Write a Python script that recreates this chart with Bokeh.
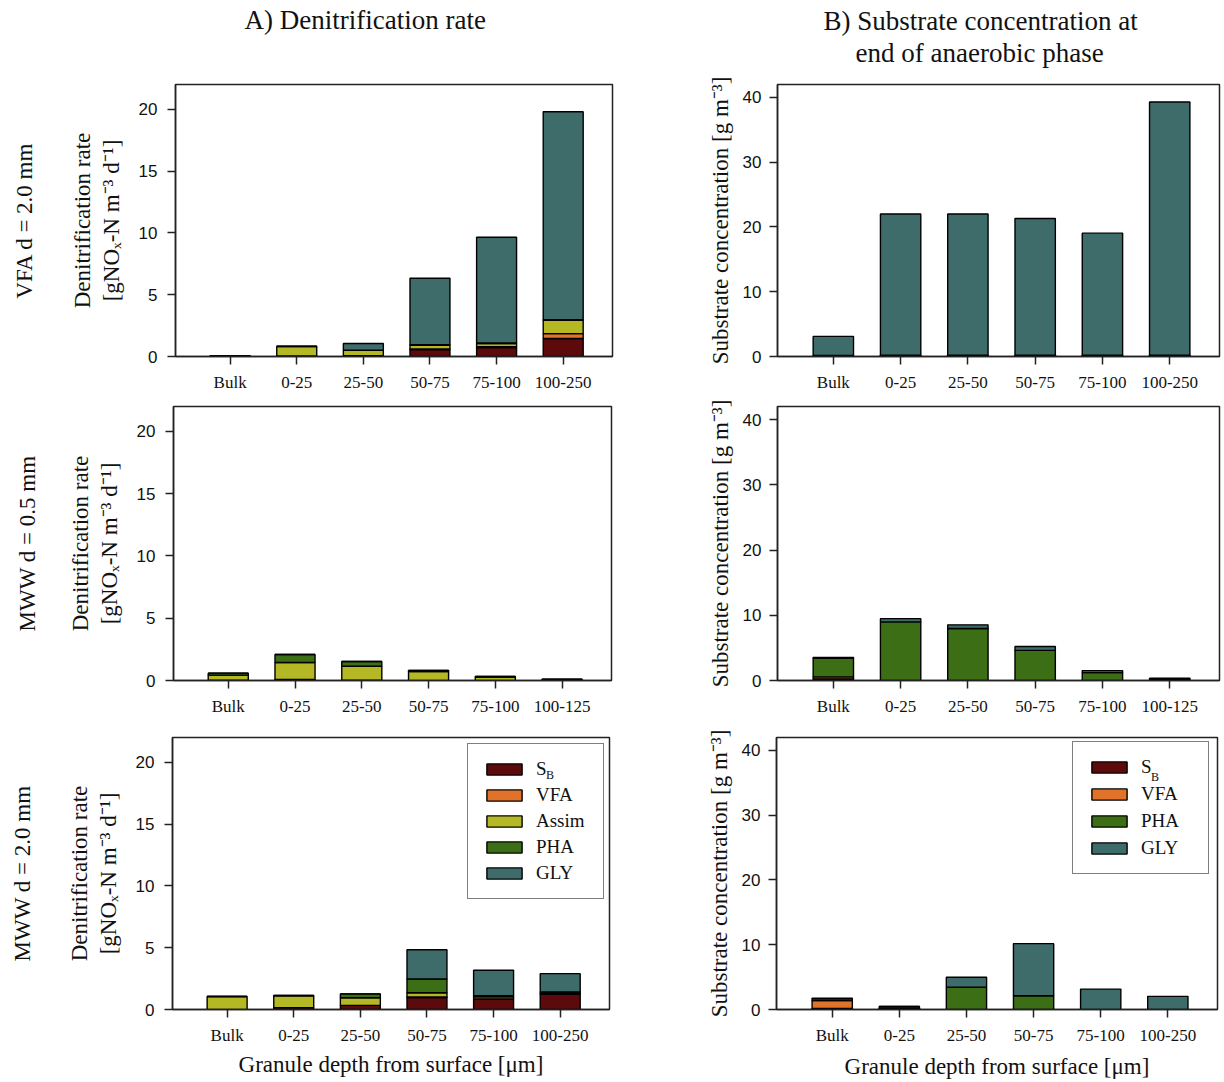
import math
from bokeh.plotting import figure
from bokeh.models import Range1d, ColumnDataSource, Legend, LegendItem, Title, FixedTicker
from bokeh.core.properties import value
from bokeh.layouts import column, row
from bokeh.embed import file_html
from bokeh.resources import INLINE

# ---------------- data ----------------
cats_a1 = ["Bulk", "0-25", "25-50", "50-75", "75-100", "100-250"]
cats_a2 = ["Bulk", "0-25", "25-50", "50-75", "75-100", "100-125"]
cats_a3 = ["Bulk", "0-25", "25-50", "50-75", "75-100", "100-250"]
cats_b1 = ["Bulk", "0-25", "25-50", "50-75", "75-100", "100-250"]
cats_b2 = ["Bulk", "0-25", "25-50", "50-75", "75-100", "100-125"]
cats_b3 = ["Bulk", "0-25", "25-50", "50-75", "75-100", "100-250"]

# A) Denitrification rate [gNOx-N m-3 d-1]
a1_sb    = [0.05, 0.05, 0.07, 0.56, 0.72, 1.45]
a1_vfa   = [0.00, 0.00, 0.00, 0.05, 0.08, 0.40]
a1_assim = [0.02, 0.75, 0.44, 0.30, 0.25, 1.07]
a1_pha   = [0.00, 0.03, 0.00, 0.05, 0.05, 0.05]
a1_gly   = [0.00, 0.00, 0.54, 5.37, 8.55, 16.82]

a2_sb    = [0.03, 0.08, 0.02, 0.00, 0.00, 0.03]
a2_vfa   = [0.00, 0.00, 0.00, 0.00, 0.00, 0.00]
a2_assim = [0.40, 1.36, 1.13, 0.72, 0.28, 0.03]
a2_pha   = [0.16, 0.65, 0.38, 0.08, 0.04, 0.04]
a2_gly   = [0.00, 0.00, 0.00, 0.00, 0.00, 0.00]

a3_sb    = [0.00, 0.15, 0.33, 0.97, 0.86, 1.23]
a3_vfa   = [0.00, 0.00, 0.00, 0.05, 0.00, 0.00]
a3_assim = [1.05, 0.95, 0.62, 0.33, 0.16, 0.05]
a3_pha   = [0.00, 0.03, 0.31, 1.12, 0.10, 0.14]
a3_gly   = [0.00, 0.00, 0.00, 2.36, 2.05, 1.48]

# B) Substrate concentration at end of anaerobic phase [g m-3]
b1_sb  = [0.05, 0.05, 0.05, 0.05, 0.05, 0.05]
b1_vfa = [0.00, 0.00, 0.00, 0.00, 0.00, 0.00]
b1_pha = [0.10, 0.15, 0.15, 0.15, 0.15, 0.15]
b1_gly = [2.95, 21.80, 21.80, 21.10, 18.85, 39.10]

b2_sb  = [0.25, 0.00, 0.00, 0.00, 0.00, 0.10]
b2_vfa = [0.30, 0.00, 0.00, 0.00, 0.00, 0.00]
b2_pha = [2.85, 8.98, 7.97, 4.62, 1.20, 0.15]
b2_gly = [0.15, 0.50, 0.56, 0.60, 0.32, 0.10]

b3_sb  = [0.15, 0.20, 0.00, 0.00, 0.00, 0.00]
b3_vfa = [1.25, 0.00, 0.00, 0.00, 0.00, 0.00]
b3_pha = [0.28, 0.26, 3.46, 2.13, 0.00, 0.00]
b3_gly = [0.05, 0.00, 1.52, 8.04, 3.15, 2.03]

a_ticks = [0, 5, 10, 15, 20]
b_ticks = [0, 10, 20, 30, 40]

COL = {"SB": "#5C0A0C", "VFA": "#E0722A", "Assim": "#B3B824",
       "PHA": "#3B6E15", "GLY": "#3E6C6B"}

SERIF = "Liberation Serif"
SANS = "Liberation Sans"
TXT = "#111111"


class Panel:
    def __init__(self, col_left, row_top, W, H, frame, xr, yr, cats, names, vals, yticks, ystand):
        self.fl, self.ft, self.fr, self.fb = frame
        self.xr, self.yr = xr, yr
        p = figure(width=W, height=H, output_backend="svg", toolbar_location=None,
                   x_range=Range1d(*xr), y_range=Range1d(*yr), title=None,
                   min_border_left=self.fl - col_left, min_border_right=col_left + W - self.fr,
                   min_border_top=self.ft - row_top, min_border_bottom=row_top + H - self.fb)
        p.background_fill_color = "white"
        p.border_fill_color = "white"
        p.outline_line_color = "#222222"
        p.outline_line_width = 1.5
        p.xgrid.visible = False
        p.ygrid.visible = False
        src = ColumnDataSource(dict(x=list(range(len(cats))), **{n: v for n, v in zip(names, vals)}))
        self.rends = p.vbar_stack(names, x="x", width=0.6, source=src,
                                  fill_color=[COL[n] for n in names],
                                  line_color="black", line_width=1.4)
        for ax in (p.xaxis[0], p.yaxis[0]):
            ax.axis_line_color = "#222222"
            ax.axis_line_width = 1.5
            ax.major_tick_line_color = "#222222"
            ax.major_tick_line_width = 1.5
            ax.major_tick_in = 0
            ax.major_tick_out = 8
            ax.minor_tick_line_color = None
            ax.major_label_text_color = TXT
            ax.major_label_text_font_size = "17px"
            ax.axis_label_text_font = SERIF
            ax.axis_label_text_font_size = "23px"
            ax.axis_label_text_font_style = "normal"
            ax.axis_label_text_color = TXT
        p.xaxis.ticker = FixedTicker(ticks=list(range(len(cats))))
        p.xaxis.major_label_overrides = {i: c for i, c in enumerate(cats)}
        p.xaxis.major_label_text_font = SERIF
        p.xaxis.major_label_standoff = 8
        p.yaxis.ticker = FixedTicker(ticks=yticks)
        p.yaxis.major_label_text_font = SANS
        p.yaxis.major_label_standoff = ystand
        self.p = p

    def dx(self, px):
        return self.xr[0] + (px - self.fl) / (self.fr - self.fl) * (self.xr[1] - self.xr[0])

    def dy(self, py):
        return self.yr[0] + (self.fb - py) / (self.fb - self.ft) * (self.yr[1] - self.yr[0])

    def title(self, side, txt, size, standoff, align="center", offset=0):
        self.p.add_layout(Title(text=txt, text_font=SERIF, text_font_size=f"{size}px",
                                text_font_style="normal", text_color=TXT, align=align,
                                offset=offset, standoff=standoff), side)

    def spacer(self, side, gap):
        # near-empty title used only to push the next title outward
        self.p.add_layout(Title(text=" ", text_font_size="1px", standoff=gap), side)

    def legend(self, labels, x, y, spacing):
        items = [LegendItem(label=l, renderers=[r]) for l, r in zip(labels, self.rends)]
        lg = Legend(items=items, location=(x, y), glyph_width=44, glyph_height=14,
                    label_text_font=SERIF, label_text_font_size="19px",
                    label_text_color=TXT, label_height=20, label_width=53,
                    label_standoff=10, spacing=spacing, padding=14, margin=0,
                    border_line_color="black", border_line_width=1.4,
                    background_fill_alpha=0.0)
        self.p.add_layout(lg)

    def subscript(self, px, py, txt):
        # subscript "B" of the legend entry S_B (legend background is transparent)
        self.p.text(x=[self.dx(px)], y=[self.dy(py)], text=[txt],
                    text_font=value(SERIF), text_font_size="12px",
                    text_align="left", text_baseline="middle", text_color=TXT)


A_NAMES = ["SB", "VFA", "Assim", "PHA", "GLY"]
B_NAMES = ["SB", "VFA", "PHA", "GLY"]
AX = (-0.82, 5.74)
BX = (-0.83, 5.74)
AY = (0, 22)
BY = (0, 42)
WA, WB = 690, 534
R1, R2, R3 = 398, 327, 357
T1, T2, T3 = 0, R1, R1 + R2

pa1 = Panel(0, T1, WA, R1, (175, 84, 612, 357), AX, AY, cats_a1, A_NAMES,
            [a1_sb, a1_vfa, a1_assim, a1_pha, a1_gly], a_ticks, 10)
pb1 = Panel(WA, T1, WB, R1, (777, 80, 1219, 356), BX, BY, cats_b1, B_NAMES,
            [b1_sb, b1_vfa, b1_pha, b1_gly], b_ticks, 8)
pa2 = Panel(0, T2, WA, R2, (173, 406, 611, 680), AX, AY, cats_a2, A_NAMES,
            [a2_sb, a2_vfa, a2_assim, a2_pha, a2_gly], a_ticks, 10)
pb2 = Panel(WA, T2, WB, R2, (777, 405, 1219, 681), BX, BY, cats_b2, B_NAMES,
            [b2_sb, b2_vfa, b2_pha, b2_gly], b_ticks, 8)
pa3 = Panel(0, T3, WA, R3, (172, 735, 609, 1009), AX, AY, cats_a3, A_NAMES,
            [a3_sb, a3_vfa, a3_assim, a3_pha, a3_gly], a_ticks, 10)
pb3 = Panel(WA, T3, WB, R3, (776, 737, 1217, 1013), BX, BY, cats_b3, B_NAMES,
            [b3_sb, b3_vfa, b3_pha, b3_gly], b_ticks, 8)

# column titles
pa1.spacer("above", 47)
pa1.title("above", "A) Denitrification rate", 27, 0, align="left", offset=69)
pb1.spacer("above", 14)
pb1.title("above", "end of anaerobic phase", 27, 0, align="left", offset=78)
pb1.title("above", "B) Substrate concentration at", 27, 0, align="left", offset=46)

# y axis titles (A: two lines + row label)
for pn, rowlab, gap in ((pa1, "VFA d = 2.0 mm", 27), (pa2, "MWW d = 0.5 mm", 22),
                        (pa3, "MWW d = 2.0 mm", 26)):
    pn.p.yaxis.axis_label = "[gNO\u2093-N m\u207b\u00b3 d\u207b\u00b9]"
    pn.p.yaxis.axis_label_standoff = 12
    pn.title("left", "Denitrification rate", 23, 2)
    pn.spacer("left", gap)
    pn.title("left", rowlab, 23, 0)
for pn in (pb1, pb2, pb3):
    pn.p.yaxis.axis_label = "Substrate concentration [g m\u207b\u00b3]"
    pn.p.yaxis.axis_label_standoff = 7

# x axis titles
pa3.p.xaxis.axis_label = "Granule depth from surface [\u03bcm]"
pa3.p.xaxis.axis_label_standoff = 4
pb3.p.xaxis.axis_label = "Granule depth from surface [\u03bcm]"
pb3.p.xaxis.axis_label_standoff = 6

# legends
pa3.legend(["S", "VFA", "Assim", "PHA", "GLY"], 467 - 172, 1009 - 899, 4)
pa3.subscript(545.5, 773, "B")
pb3.legend(["S", "VFA", "PHA", "GLY"], 1072 - 776, 1013 - 878, 5)
pb3.subscript(1150.5, 777, "B")

layout = column(row(pa1.p, pb1.p), row(pa2.p, pb2.p), row(pa3.p, pb3.p))
open("out.html", "w").write(file_html(layout, INLINE))
